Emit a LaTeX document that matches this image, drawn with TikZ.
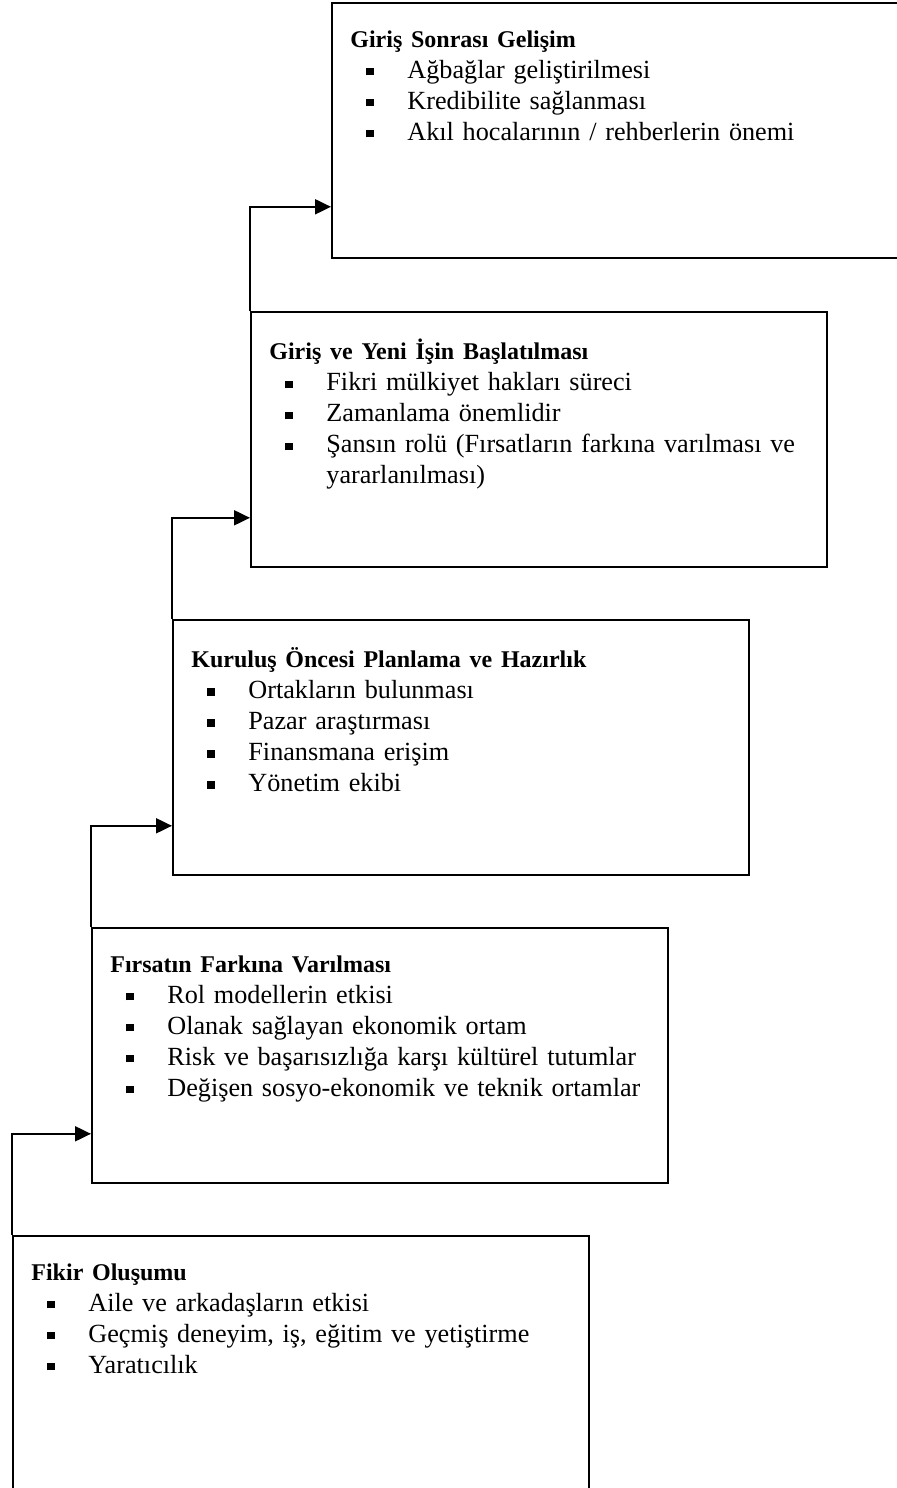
\documentclass[tikz,border=0pt]{standalone}
\usepackage{fontspec}
\setmainfont{Liberation Serif}
\usetikzlibrary{positioning,arrows.meta}

% madde imi (kare)
\newcommand{\madde}[1]{\par\noindent\hspace*{8pt}\rule[1.3pt]{3.9pt}{3.9pt}\hspace*{16.6pt}#1}
\newcommand{\baslik}[1]{\noindent{\fontsize{12}{15}\selectfont\bfseries #1}\par}

\begin{document}
\begin{tikzpicture}[x=0.5pt,y=-0.5pt,
    asama/.style={draw, line width=0.9pt, anchor=north west, inner sep=0pt,
                  minimum width=288pt, minimum height=127.5pt},
    metin/.style={inner sep=0pt, text width=275pt, align=left,
                  font=\fontsize{13.1}{15.5}\selectfont},
    ok/.style={line width=1pt, -{Triangle[length=8pt,width=7.5pt]}}]
\clip (0,0) rectangle (897,1488);

% Kutular
\node [asama] (gelisim)  at (331,2)    {};
\node [asama] (baslatma) at (250,311)  {};
\node [asama] (hazirlik) at (172,619)  {};
\node [asama] (firsat)   at (91,927)   {};
\node [asama] (fikir)    at (12,1235)  {};

% Metinler
\node [metin, below right=14pt and 9.5pt of gelisim.north west] (gelisimyazi) {%
  \baslik{Giriş Sonrası Gelişim}
  \madde{Ağbağlar geliştirilmesi}
  \madde{Kredibilite sağlanması}
  \madde{Akıl hocalarının / rehberlerin önemi}};
\node [metin, below right=14pt and 9.5pt of baslatma.north west] (baslatmayazi) {%
  \baslik{Giriş ve Yeni İşin Başlatılması}
  \madde{Fikri mülkiyet hakları süreci}
  \madde{Zamanlama önemlidir}
  \madde{Şansın rolü (Fırsatların farkına varılması ve}
  \par\noindent\hspace*{28.5pt}yararlanılması)};
\node [metin, below right=14pt and 9.5pt of hazirlik.north west] (hazirlikyazi) {%
  \baslik{Kuruluş Öncesi Planlama ve Hazırlık}
  \madde{Ortakların bulunması}
  \madde{Pazar araştırması}
  \madde{Finansmana erişim}
  \madde{Yönetim ekibi}};
\node [metin, below right=14pt and 9.5pt of firsat.north west] (firsatyazi) {%
  \baslik{Fırsatın Farkına Varılması}
  \madde{Rol modellerin etkisi}
  \madde{Olanak sağlayan ekonomik ortam}
  \madde{Risk ve başarısızlığa karşı kültürel tutumlar}
  \madde{Değişen sosyo-ekonomik ve teknik ortamlar}};
\node [metin, below right=14pt and 9.5pt of fikir.north west] (fikiryazi) {%
  \baslik{Fikir Oluşumu}
  \madde{Aile ve arkadaşların etkisi}
  \madde{Geçmiş deneyim, iş, eğitim ve yetiştirme}
  \madde{Yaratıcılık}};

% Oklar
\draw [ok] (fikir.north west)    |- ([yshift=25pt]firsat.south west);
\draw [ok] (firsat.north west)   |- ([yshift=25pt]hazirlik.south west);
\draw [ok] (hazirlik.north west) |- ([yshift=25pt]baslatma.south west);
\draw [ok] (baslatma.north west) |- ([yshift=26pt]gelisim.south west);
\end{tikzpicture}
\end{document}
